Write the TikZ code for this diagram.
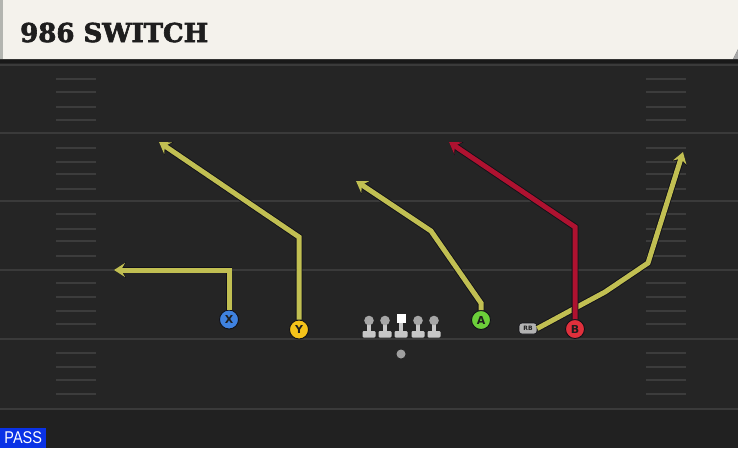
\documentclass[tikz,border=0pt]{standalone}
\usepackage{fontspec}
\usetikzlibrary{arrows.meta}
\newfontfamily\titlefont[BoldFeatures={FakeBold=2.5}]{DejaVu Serif}
\newfontfamily\passfont[FakeStretch=0.85]{Liberation Sans}
\newfontfamily\pfont{DejaVu Sans}
\definecolor{fieldbg}{HTML}{252525}
\definecolor{fieldlow}{HTML}{212121}
\definecolor{majorc}{HTML}{3A3A3A}
\definecolor{hashc}{HTML}{3C3C3C}
\definecolor{headerbg}{HTML}{F4F2EC}
\definecolor{headeredge}{HTML}{B3B5B0}
\definecolor{titlec}{HTML}{1E1E1E}
\definecolor{routey}{HTML}{C1BF52}
\definecolor{router}{HTML}{AE1230}
\definecolor{edgec}{HTML}{111118}
\definecolor{xblue}{HTML}{3F82E0}
\definecolor{yyellow}{HTML}{F4C21A}
\definecolor{agreen}{HTML}{6CCF3A}
\definecolor{bred}{HTML}{E0303C}
\definecolor{passblue}{HTML}{0A32E6}
\definecolor{linec}{HTML}{C8C8C8}
\definecolor{headc}{HTML}{A6A6A6}
\begin{document}
\begin{tikzpicture}[x=1pt,y=-1pt,
  majorline/.style={draw=majorc,line width=2pt},
  hashline/.style={draw=hashc,line width=1.6pt},
  route/.style={draw=#1,line width=5pt,line join=miter,
    -{Stealth[length=11pt,width=14pt,inset=4pt]},
    preaction={draw=edgec,line width=6.8pt,line join=miter,
      -{Stealth[length=12pt,width=15.6pt,inset=4pt]}}},
  player/.style={circle,minimum size=19pt,inner sep=0pt,fill=#1,
    draw=edgec,line width=0.9pt,font=\pfont\bfseries\fontsize{11}{11}\selectfont,text=titlec},
  lineman/.style={fill=linec},
]
\useasboundingbox (0,0) rectangle (738,448);
% field
\fill[fieldbg] (0,0) rectangle (738,448);
\fill[fieldlow] (0,409) rectangle (738,448);
\foreach \yy in {65,133,201,270,339,409}
  \draw[majorline] (0,\yy) -- (738,\yy);
\foreach \yy in {79,92,107,120,148,162,174,189,214,229,241,256,283,297,311,324,353,367,380,394}{
  \draw[hashline] (56,\yy) -- (96,\yy);
  \draw[hashline] (646,\yy) -- (686,\yy);
}
% header
\fill[black!90] (0,59) rectangle (738,63);
\fill[headerbg] (0,0) -- (738,0) -- (738,49) -- (733,59) -- (0,59) -- cycle;
\fill[gray!70] (738,49) -- (738,59) -- (733,59) -- cycle;
\fill[headeredge] (0,0) rectangle (2.5,59);
\node[anchor=base west,inner sep=0pt,text=titlec,
  font=\titlefont\bfseries\fontsize{26}{26}\selectfont] (title) at (20,42) {986 SWITCH};
% PASS tag
\node[anchor=south west,fill=passblue,text=white,inner sep=0pt,minimum width=46pt,minimum height=20pt,
  font=\passfont\fontsize{17}{17}\selectfont] (pass) at (0,448) {PASS};
% linemen
\foreach \lx in {369,385,418,434}{
  \fill[lineman] (\lx-2.3,320) rectangle (\lx+2.3,333);
  \fill[lineman,rounded corners=1.2pt] (\lx-6.5,331) rectangle (\lx+6.5,337.5);
  \fill[headc] (\lx,320.5) circle (4.8pt);
}
\fill[lineman] (398.7,320) rectangle (403.3,333);
\fill[lineman,rounded corners=1.2pt] (394.5,331) rectangle (407.5,337.5);
\fill[white] (396.5,313.5) rectangle (405.5,322.5);
% ball
\node[circle,fill=gray!75,minimum size=9pt,inner sep=0pt] (ball) at (401,354) {};
% players
\node[player=xblue] (X) at (229,319.5) {X};
\node[player=yyellow] (Y) at (299,329.5) {Y};
\node[player=agreen] (A) at (481,320) {A};
\node[player=bred] (B) at (575,329) {B};
\node[fill=gray!60,draw=edgec,line width=0.6pt,rounded corners=3pt,minimum width=18pt,minimum height=11pt,
  inner sep=0pt,text=titlec,font=\pfont\bfseries\fontsize{6}{6}\selectfont] (RB) at (528,328.5) {RB};
% route waypoints
\coordinate (x1) at (229,270);
\coordinate (xe) at (114,270);
\coordinate (y1) at (299,237);
\coordinate (ye) at (159,142);
\coordinate (a1) at (481,303);
\coordinate (a2) at (431,231);
\coordinate (ae) at (356,181);
\coordinate (b1) at (575,227);
\coordinate (be) at (449,142);
\coordinate (r1) at (605,292);
\coordinate (r2) at (648,263);
\coordinate (re) at (683,152);
% routes
\draw[route=routey] (RB.east) -- (r1) -- (r2) -- (re);
\draw[route=router] (B.north) -- (b1) -- (be);
\draw[route=routey] (X.north) -- (x1) -- (xe);
\draw[route=routey] (Y.north) -- (y1) -- (ye);
\draw[route=routey] (A.north) -- (a1) -- (a2) -- (ae);
\end{tikzpicture}
\end{document}
